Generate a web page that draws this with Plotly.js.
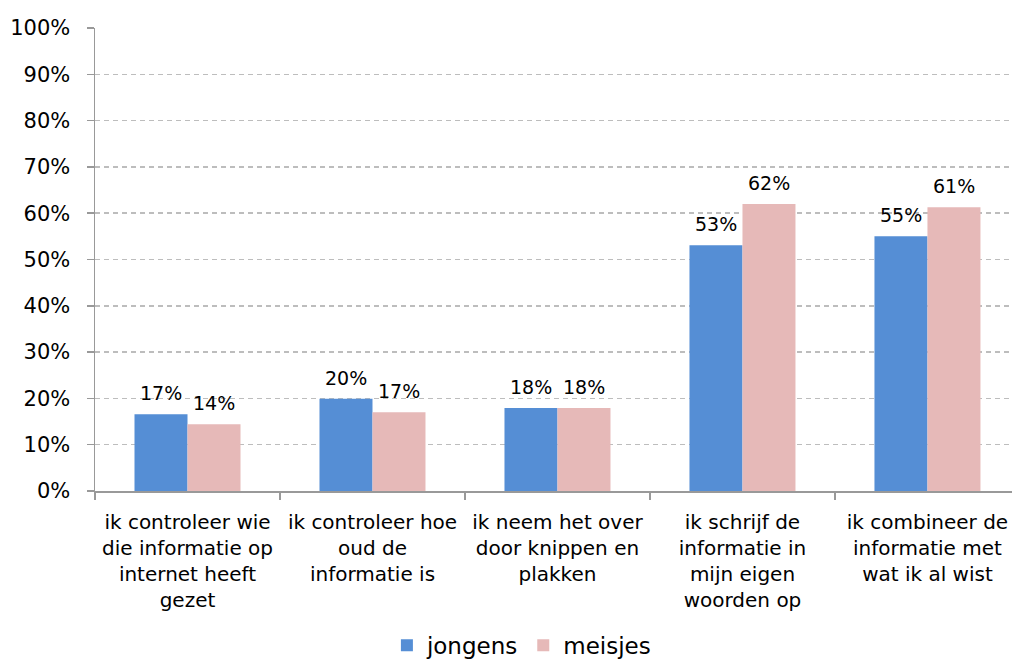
<!DOCTYPE html>
<html>
<head>
<meta charset="utf-8">
<script src="https://cdn.plot.ly/plotly-3.0.1.min.js"></script>
<style>html,body{margin:0;padding:0;background:#fff;overflow:hidden;}#chart{width:1012px;height:680px;}</style>
</head>
<body>
<div id="chart"></div>
<script>
var categories = [
  "ik controleer wie<br>die informatie op<br>internet heeft<br>gezet",
  "ik controleer hoe<br>oud de<br>informatie is",
  "ik neem het over<br>door knippen en<br>plakken",
  "ik schrijf de<br>informatie in<br>mijn eigen<br>woorden op",
  "ik combineer de<br>informatie met<br>wat ik al wist"
];
var jongens = [16.6, 19.9, 17.9, 53.1, 55.0];
var meisjes = [14.4, 17.0, 17.9, 62.0, 61.3];
var jongensLabels = ["17%", "20%", "18%", "53%", "55%"];
var meisjesLabels = ["14%", "17%", "18%", "62%", "61%"];
var yTicks = [0,10,20,30,40,50,60,70,80,90,100];
var yTickText = ["0%","10%","20%","30%","40%","50%","60%","70%","80%","90%","100%"];

var font = "DejaVu Sans, Verdana, sans-serif";
var traces = [
  {type:"bar", name:"jongens", x:categories, y:jongens,
   marker:{color:"#558ED5", line:{width:0}}},
  {type:"bar", name:"meisjes", x:categories, y:meisjes,
   marker:{color:"#E6B9B8", line:{width:0}}}
];

var annotations = [];
function addLabels(vals, labels, shift) {
  for (var i = 0; i < vals.length; i++) {
    annotations.push({xref:"x", yref:"y", x:categories[i], y:vals[i], text:labels[i],
      showarrow:false, xanchor:"center", yanchor:"bottom", xshift:shift, yshift:8,
      font:{family:font, size:19, color:"#000"}});
  }
}
addLabels(jongens, jongensLabels, -26.5);
addLabels(meisjes, meisjesLabels, 26.5);

var layout = {
  width:1012, height:680,
  margin:{l:95, r:0, t:28, b:189},
  paper_bgcolor:"#fff", plot_bgcolor:"#fff",
  font:{family:font, size:20, color:"#000"},
  barmode:"group", bargap:0.427, bargroupgap:0,
  showlegend:true,
  annotations:annotations,
  legend:{orientation:"h", x:0.465, xanchor:"center", y:-0.333, yanchor:"middle",
          font:{family:font, size:23, color:"#000"}, itemwidth:30, traceorder:"normal"},
  xaxis:{type:"category", range:[-0.5, 4.457], tickson:"boundaries",
         ticks:"outside", ticklen:7, tickcolor:"#999", tickwidth:1.5,
         showline:true, linecolor:"#999", linewidth:1.5, showgrid:false,
         tickangle:0, ticklabelstandoff:12,
         tickfont:{family:font, size:20, color:"#000"}, automargin:false},
  yaxis:{range:[0,100], tickmode:"array", tickvals:yTicks, ticktext:yTickText,
         ticks:"outside", ticklen:7,
         tickcolor:"#999", tickwidth:1.5, showline:true, linecolor:"#999", linewidth:1.5,
         showgrid:true, gridcolor:"#bdbdbd", gridwidth:1.5, griddash:"5px,4px",
         zeroline:false, ticklabelstandoff:12,
         tickfont:{family:font, size:21, color:"#000"}, automargin:false}
};
Plotly.newPlot("chart", traces, layout, {displayModeBar:false, staticPlot:true});
</script>
</body>
</html>
